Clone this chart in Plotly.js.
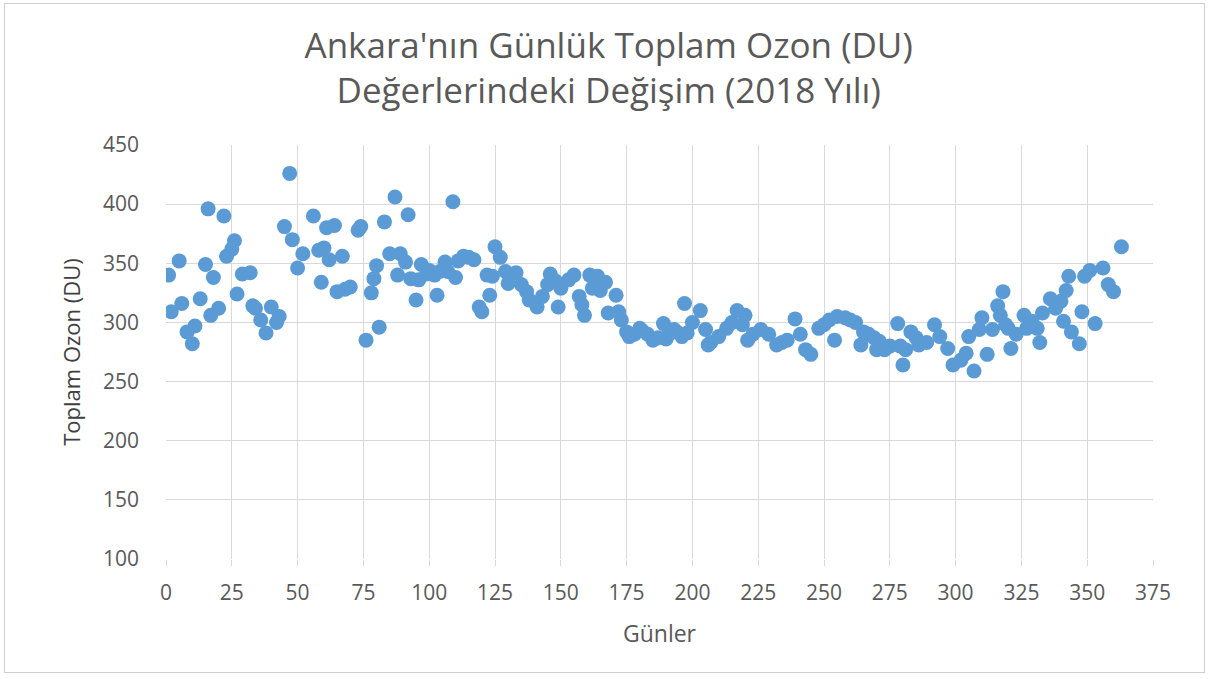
<!DOCTYPE html>
<html>
<head>
<meta charset="utf-8">
<script src="https://cdn.plot.ly/plotly-3.0.1.min.js"></script>
<style>
  html, body { margin: 0; padding: 0; background: #ffffff; }
  #wrap { position: relative; width: 1210px; height: 679px; }
  #chart { width: 1210px; height: 679px; }
  #frame { position: absolute; left: 4px; top: 3px; width: 1199px; height: 668px; border: 1px solid #d0d0d0; pointer-events: none; }
</style>
</head>
<body>
<div id="wrap"><div id="chart"></div><div id="frame"></div></div>
<script>
const days = [1,2,5,6,8,10,11,13,15,16,17,18,20,22,23,25,26,27,29,32,33,34,36,38,40,42,43,45,47,48,50,52,56,58,59,60,61,62,64,65,67,68,70,73,74,76,78,79,80,81,83,85,87,88,89,91,92,93,95,96,97,99,100,102,103,104,106,107,109,110,111,113,115,117,119,120,122,123,124,125,127,129,130,133,135,137,138,141,143,145,146,148,149,150,153,155,157,158,159,161,162,164,165,167,168,171,172,173,175,176,178,180,181,183,185,187,189,190,191,193,194,196,197,198,200,203,205,206,207,210,213,215,217,219,220,221,223,226,229,232,234,236,239,241,243,245,248,250,252,254,255,258,260,262,264,265,267,269,270,271,273,275,278,279,280,281,283,285,286,289,292,294,297,299,302,304,305,307,309,310,312,314,316,317,318,319,320,321,323,326,327,329,331,332,333,336,338,340,341,342,343,344,347,348,349,351,353,356,358,360,363];
const ozone = [340,309,352,316,292,282,297,320,349,396,306,338,312,390,356,362,369,324,341,342,314,312,302,291,313,300,305,381,426,370,346,358,390,361,334,363,380,353,382,326,356,328,330,378,381,285,325,337,348,296,385,358,406,340,358,351,391,337,319,336,349,341,344,340,323,343,351,343,402,338,352,356,355,353,313,309,340,323,339,364,355,343,333,342,332,326,319,313,322,332,341,335,313,329,336,340,322,315,306,340,329,339,327,334,308,323,309,302,292,288,290,295,293,290,285,287,299,286,290,294,292,288,316,291,300,310,294,281,283,288,295,300,310,298,306,285,290,294,290,281,283,285,303,290,277,273,295,298,302,285,305,304,302,300,281,292,290,287,277,284,277,280,299,280,264,277,292,287,281,283,298,288,278,264,268,274,288,259,294,304,273,294,314,306,326,298,295,278,290,306,295,301,295,283,308,320,312,318,301,327,339,292,282,309,339,344,299,346,332,326,364];

const xTicks = [0,25,50,75,100,125,150,175,200,225,250,275,300,325,350,375];
const yTicks = [100,150,200,250,300,350,400,450];

const titleText = "Ankara'nın Günlük Toplam Ozon (DU)<br>Değerlerindeki Değişim (2018 Yılı)";
const xTitle = "Günler";
const yTitle = "Toplam Ozon (DU)";

const fontFam = "'Open Sans', Lato, sans-serif";
const grey = "#595959";

const trace = {
  x: days, y: ozone, type: 'scatter', mode: 'markers',
  marker: { color: '#5B9BD5', size: 15, line: { width: 0 } },
  hoverinfo: 'x+y'
};

const layout = {
  width: 1210, height: 679,
  paper_bgcolor: '#ffffff', plot_bgcolor: '#ffffff',
  margin: { l: 166, r: 57, t: 145, b: 120, pad: 0 },
  showlegend: false,
  font: { family: fontFam, color: grey },
  title: { text: titleText, x: 0.503, xanchor: 'center', yref: 'container', y: 0.915, yanchor: 'top',
           font: { family: fontFam, size: 35, color: grey } },
  xaxis: {
    range: [0, 375], tickvals: xTicks, ticktext: xTicks.map(String),
    showgrid: true, gridcolor: '#d9d9d9', gridwidth: 1, zeroline: false,
    showline: false, ticks: 'outside', ticklen: 6, tickcolor: '#d9d9d9',
    ticklabelstandoff: 9,
    tickfont: { family: fontFam, size: 21, color: grey },
    title: { text: xTitle, font: { family: fontFam, size: 23, color: grey }, standoff: 20 }
  },
  yaxis: {
    range: [100, 450], tickvals: yTicks, ticktext: yTicks.map(String),
    showgrid: true, gridcolor: '#d9d9d9', gridwidth: 1, zeroline: false,
    showline: false, ticks: '', ticklabelstandoff: 26,
    tickfont: { family: fontFam, size: 21, color: grey },
    title: { text: yTitle, font: { family: fontFam, size: 22, color: '#404040' }, standoff: 16 }
  }
};

Plotly.newPlot('chart', [trace], layout, { displayModeBar: false, staticPlot: true });
</script>
</body>
</html>
